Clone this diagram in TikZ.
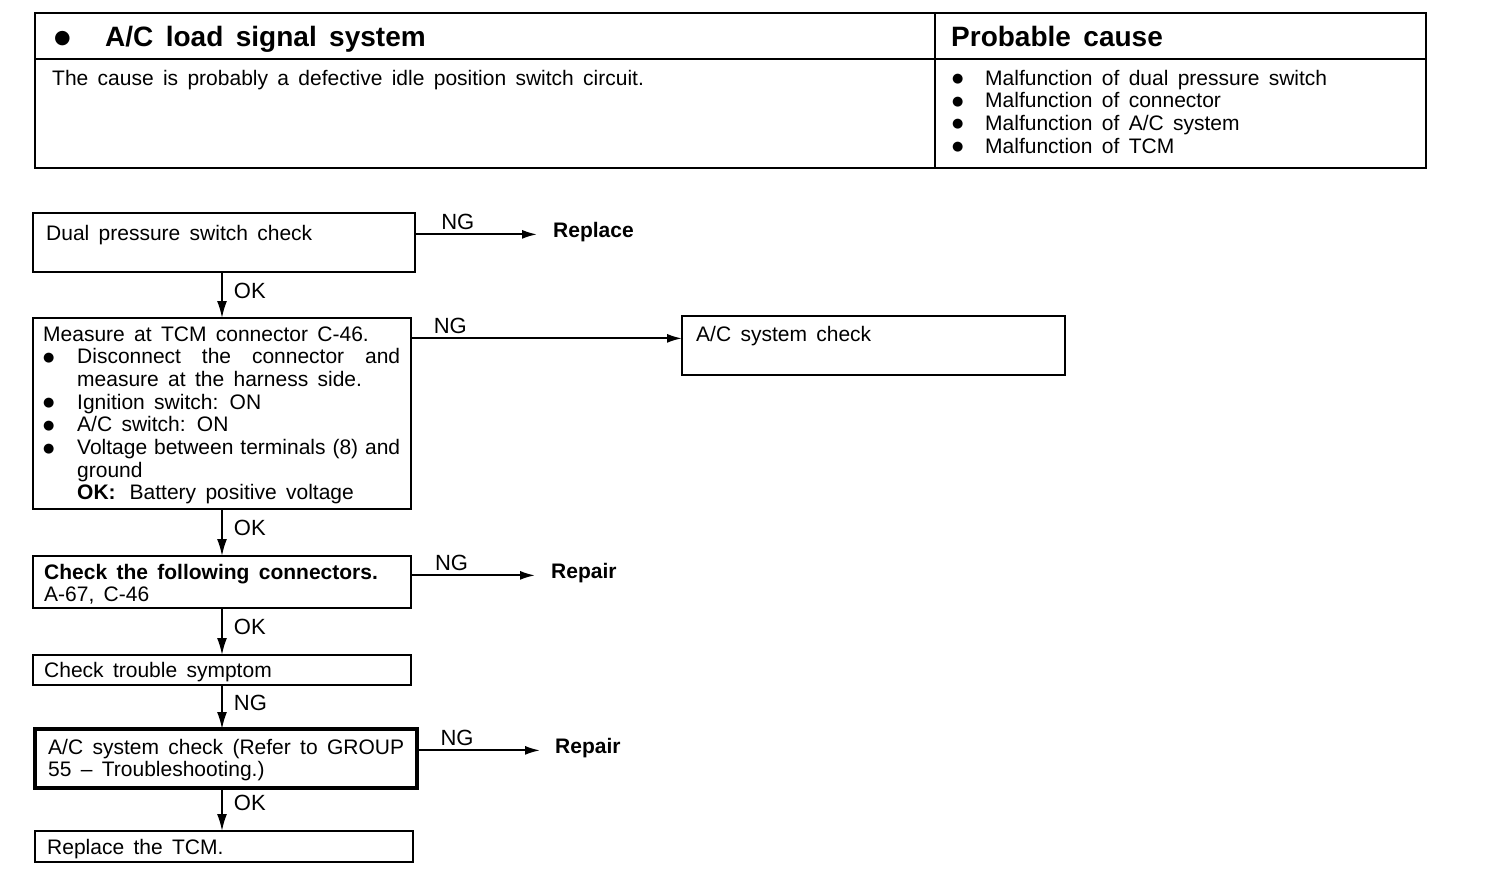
\documentclass[tikz,border=0pt]{standalone}
\usepackage{fontspec}
\setmainfont{Liberation Sans}[WordSpace=1.6]
\newfontfamily\dejavu{DejaVu Sans}
\usetikzlibrary{arrows.meta}
\newcommand{\mlines}[1]{\vtop{\baselineskip=22.7pt\lineskiplimit=-20pt #1}}
\newcommand{\bigbul}{\raisebox{2.5pt}{\dejavu\fontsize{13}{13}\selectfont ●}}
\newcommand{\bulx}{\makebox[34pt][l]{\bigbul}}
\newcommand{\bulp}{\makebox[33pt][l]{\bigbul}}
\begin{document}
\begin{tikzpicture}[x=1pt,y=-1pt,
  box/.style={draw, line width=2.2pt, anchor=north west, inner sep=0pt, outer sep=0pt},
  txt/.style={anchor=base west, inner sep=0pt, font=\fontsize{21}{22.7}\selectfont},
  ttl/.style={anchor=base west, inner sep=0pt, font=\fontsize{28}{30}\selectfont\bfseries},
  lab/.style={font=\fontsize{22}{24}\selectfont, inner sep=2pt},
  hlab/.style={font=\fontsize{22}{24}\selectfont, inner sep=4pt},
  arr/.style={line width=1.8pt, -{Latex[length=17pt,width=10pt]}},
  harr/.style={line width=1.8pt, -{Latex[length=15pt,width=9pt]}}]
\useasboundingbox (0,0) rectangle (1504,870);
% ---- header table ----
\draw[line width=2.2pt] (35,13) rectangle (1426,168);
\draw[line width=2pt] (35,59) -- (1426,59);
\draw[line width=2pt] (935,13) -- (935,168);
\node[ttl] (title) at (54,46) {\makebox[51pt][l]{\raisebox{3pt}{\dejavu\fontsize{19}{19}\selectfont ●}}A/C load signal system};
\node[ttl] (pc) at (951,46) {Probable cause};
\node[txt] (cause) at (52,85) {The cause is probably a defective idle position switch circuit.};
\node[txt] (pclist) at (952,85) {\mlines{%
  \hbox{\bulp Malfunction of dual pressure switch}
  \hbox{\bulp Malfunction of connector}
  \hbox{\bulp Malfunction of A/C system}
  \hbox{\bulp Malfunction of TCM}}};
% ---- flow boxes ----
\node[box, minimum width=382pt, minimum height=59pt] (b1) at (33,213) {};
\node[txt] (t1) at (46,240) {Dual pressure switch check};
\node[box, minimum width=378pt, minimum height=191pt] (b2) at (33,318) {};
\node[txt] (t2) at (43,341) {\mlines{%
  \hbox{Measure at TCM connector C-46.}
  \hbox{\bulx\makebox[323pt][s]{Disconnect the connector and}}
  \hbox{\hspace{34pt}measure at the harness side.}
  \hbox{\bulx Ignition switch: ON}
  \hbox{\bulx A/C switch: ON}
  \hbox{\bulx\makebox[323pt][s]{Voltage between terminals (8) and}}
  \hbox{\hspace{34pt}ground}
  \hbox{\hspace{34pt}\textbf{OK:}\hspace{14pt}Battery positive voltage}}};
\node[box, minimum width=383pt, minimum height=59pt] (b3) at (682,316) {};
\node[txt] (t3) at (696,341) {A/C system check};
\node[box, minimum width=378pt, minimum height=52pt] (b4) at (33,556) {};
\node[txt] (t4) at (44,579) {\mlines{%
  \hbox{\textbf{Check the following connectors.}}
  \hbox{A-67, C-46}}};
\node[box, minimum width=378pt, minimum height=30pt] (b5) at (33,655) {};
\node[txt] (t5) at (44,677) {Check trouble symptom};
\node[box, line width=3.2pt, minimum width=382pt, minimum height=59pt] (b6) at (35,729) {};
\node[txt] (t6) at (48,754) {\mlines{%
  \hbox{A/C system check (Refer to GROUP}
  \hbox{55 -- Troubleshooting.)}}};
\node[box, minimum width=378pt, minimum height=31pt] (b7) at (35,831) {};
\node[txt] (t7) at (47,854) {Replace the TCM.};
% ---- end texts ----
\node[txt, font=\fontsize{21}{22.7}\selectfont\bfseries] (rep1) at (553,237) {Replace};
\node[txt, font=\fontsize{21}{22.7}\selectfont\bfseries] (rep2) at (551,578) {Repair};
\node[txt, font=\fontsize{21}{22.7}\selectfont\bfseries] (rep3) at (555,753) {Repair};
% ---- connectors ----
\draw[harr, shorten >=16pt] (b1.east |- rep1.mid west) -- node[hlab, above, pos=0.31] {NG} (rep1.mid west);
\draw[harr] (b2.east |- t3.mid west) -- node[hlab, above, pos=0.145] {NG} (b3.west |- t3.mid west);
\draw[harr, shorten >=16pt] (b4.east |- rep2.mid west) -- node[hlab, above, pos=0.29] {NG} (rep2.mid west);
\draw[harr, shorten >=15pt] (b6.east |- rep3.mid west) -- node[hlab, above, pos=0.29] {NG} (rep3.mid west);
\draw[arr] (b2.north |- b1.south) -- node[lab, right, pos=0.42, xshift=9pt] {OK} (b2.north);
\draw[arr] (b2.south) -- node[lab, right, pos=0.4, xshift=9pt] {OK} (b4.north);
\draw[arr] (b4.south) -- node[lab, right, pos=0.4, xshift=9pt] {OK} (b5.north);
\draw[arr] (b5.south) -- node[lab, right, pos=0.4, xshift=9pt] {NG} (b5.south |- b6.north);
\draw[arr] (b5.south |- b6.south) -- node[lab, right, pos=0.35, xshift=9pt] {OK} (b5.south |- b7.north);
\end{tikzpicture}
\end{document}
